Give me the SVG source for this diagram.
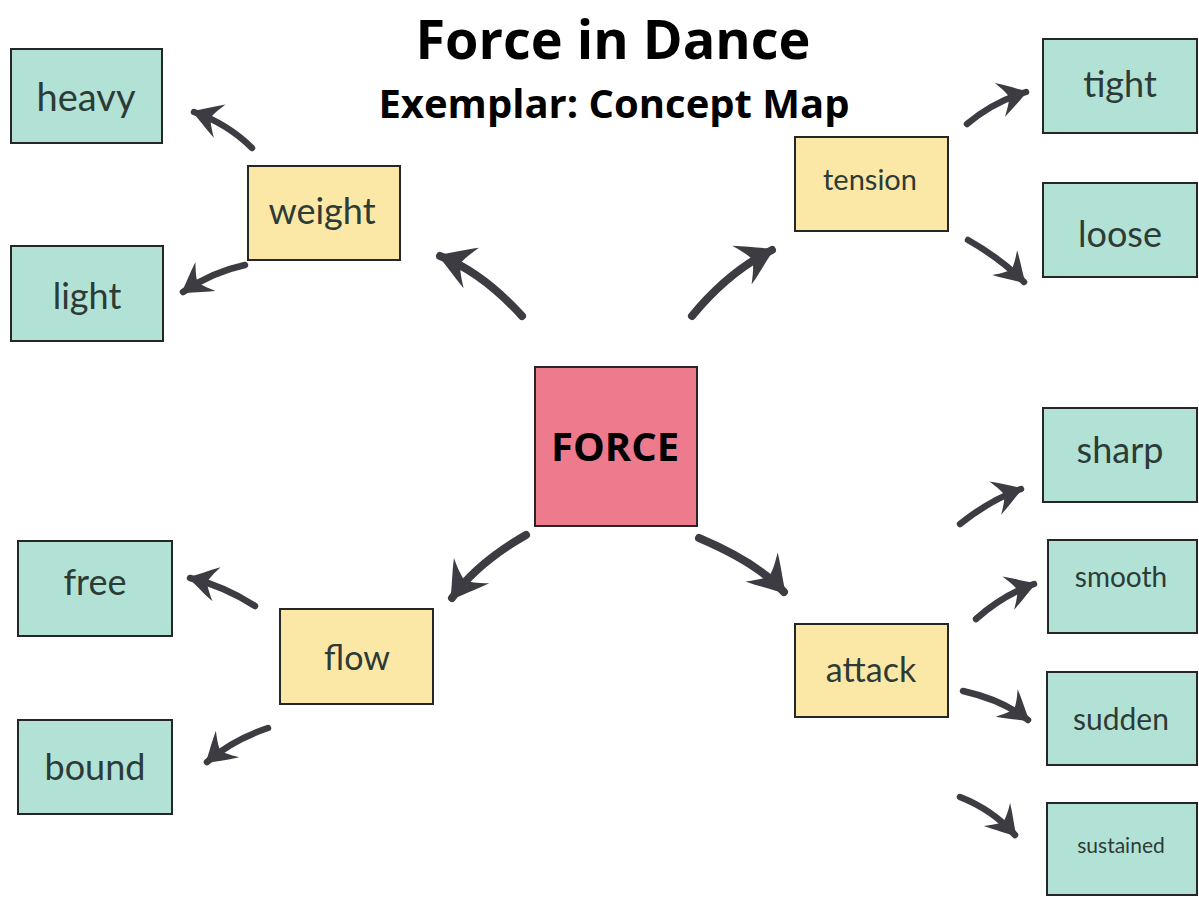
<svg xmlns="http://www.w3.org/2000/svg" width="1199" height="897" viewBox="0 0 1199 897">
<style>
.title{font-family:"Open Sans","Liberation Sans",sans-serif;font-weight:bold;fill:#000;text-anchor:middle}
.box{stroke:#262626;stroke-width:2}
.sub{fill:#b2e2d5}
.mid{fill:#fce8a6}
.core{fill:#ee7b8d}
.lbl{font-family:"Lato","Open Sans",sans-serif;fill:#2d3b37;text-anchor:middle}
.arr{fill:none;stroke:#3d3c43;stroke-linecap:round;marker-end:url(#ah)}
</style>
<defs>
<marker id="ah" viewBox="-4.6 -2.9 5.2 5.8" refX="0" refY="0" markerWidth="5.2" markerHeight="5.8" orient="auto">
<path d="M0.4,0 C-1,-0.7 -2.5,-1.8 -4.2,-2.7 C-3.3,-1.4 -2.9,-0.6 -2.7,0 C-2.9,0.6 -3.3,1.4 -4.2,2.7 C-2.5,1.8 -1,0.7 0.4,0 Z" fill="#3d3c43"/>
</marker>
</defs>
<rect width="1199" height="897" fill="#fff"/>
<text class="title" x="613" y="59" font-size="54">Force in Dance</text>
<text class="title" x="614" y="118" font-size="40">Exemplar: Concept Map</text>

<g id="connectors">
<path class="arr" stroke-width="8" d="M522,316 Q482,272 440,256"/>
<path class="arr" stroke-width="8" d="M692,316 Q728,272 772,250"/>
<path class="arr" stroke-width="8" d="M526,535 Q477,563 452,598"/>
<path class="arr" stroke-width="8" d="M699,538 Q758,563 784,592"/>
<path class="arr" stroke-width="6.5" d="M252,148 Q228,124 194,112"/>
<path class="arr" stroke-width="6.5" d="M245,265 Q212,272 183,292"/>
<path class="arr" stroke-width="6.5" d="M967,124 Q993,102 1026,92"/>
<path class="arr" stroke-width="6.5" d="M968,240 Q1000,258 1024,282"/>
<path class="arr" stroke-width="6.5" d="M255,606 Q224,586 190,578"/>
<path class="arr" stroke-width="6.5" d="M268,728 Q232,740 207,762"/>
<path class="arr" stroke-width="6.5" d="M960,524 Q990,500 1021,489"/>
<path class="arr" stroke-width="6.5" d="M976,619 Q1003,595 1034,584"/>
<path class="arr" stroke-width="6.5" d="M963,691 Q1003,700 1028,720"/>
<path class="arr" stroke-width="6.5" d="M960,797 Q993,810 1015,835"/>
</g>

<g id="node-force"><rect class="box core" x="535" y="367" width="162" height="159"/><text class="title" x="615" y="461" font-size="40">FORCE</text></g>
<g id="node-weight"><rect class="box mid" x="248" y="166" width="152" height="94"/><text class="lbl" x="322" y="224" font-size="36">weight</text></g>
<g id="node-tension"><rect class="box mid" x="795" y="137" width="153" height="94"/><text class="lbl" x="870" y="190" font-size="29">tension</text></g>
<g id="node-flow"><rect class="box mid" x="280" y="609" width="153" height="95"/><text class="lbl" x="357" y="670" font-size="34">flow</text></g>
<g id="node-attack"><rect class="box mid" x="795" y="624" width="153" height="93"/><text class="lbl" x="871" y="682" font-size="34">attack</text></g>
<g id="node-heavy"><rect class="box sub" x="11" y="49" width="151" height="94"/><text class="lbl" x="86" y="111" font-size="38">heavy</text></g>
<g id="node-light"><rect class="box sub" x="11" y="246" width="152" height="95"/><text class="lbl" x="87" y="309" font-size="36">light</text></g>
<g id="node-tight"><rect class="box sub" x="1043" y="39" width="154" height="94"/><text class="lbl" x="1120" y="97" font-size="36">tight</text></g>
<g id="node-loose"><rect class="box sub" x="1043" y="183" width="154" height="94"/><text class="lbl" x="1120" y="247" font-size="36">loose</text></g>
<g id="node-free"><rect class="box sub" x="18" y="541" width="154" height="95"/><text class="lbl" x="95" y="595" font-size="36">free</text></g>
<g id="node-bound"><rect class="box sub" x="18" y="720" width="154" height="94"/><text class="lbl" x="95" y="780" font-size="36">bound</text></g>
<g id="node-sharp"><rect class="box sub" x="1043" y="408" width="154" height="94"/><text class="lbl" x="1120" y="463" font-size="36">sharp</text></g>
<g id="node-smooth"><rect class="box sub" x="1048" y="540" width="149" height="93"/><text class="lbl" x="1121" y="587" font-size="28">smooth</text></g>
<g id="node-sudden"><rect class="box sub" x="1047" y="672" width="150" height="93"/><text class="lbl" x="1121" y="730" font-size="30">sudden</text></g>
<g id="node-sustained"><rect class="box sub" x="1047" y="803" width="150" height="92"/><text class="lbl" x="1121" y="853" font-size="21">sustained</text></g>
</svg>
